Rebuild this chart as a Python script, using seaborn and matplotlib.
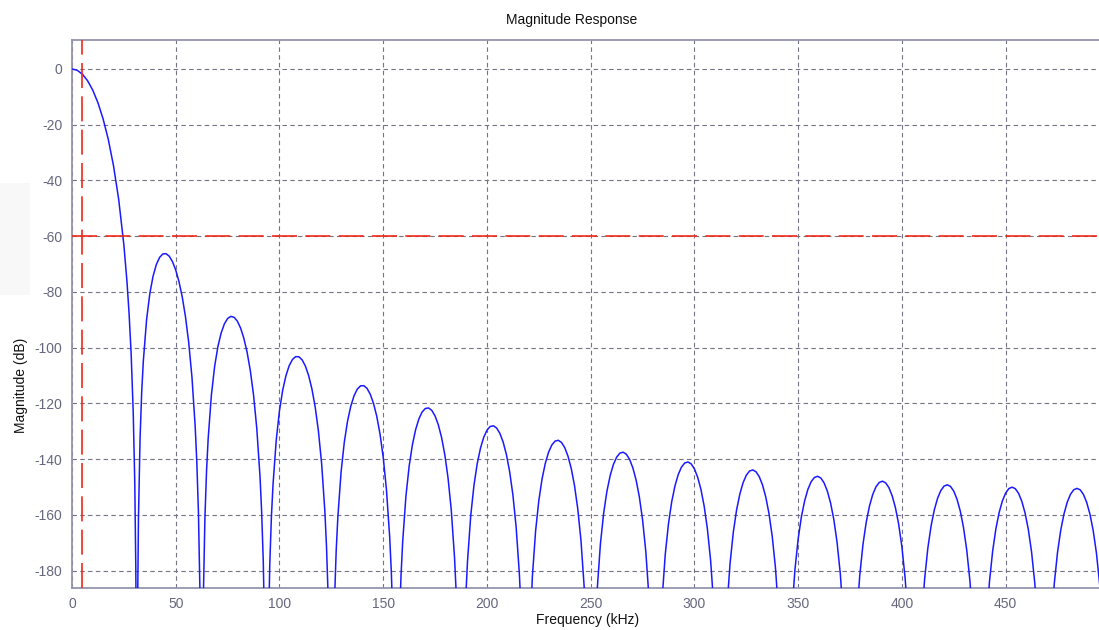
import matplotlib
matplotlib.use("Agg")
import matplotlib.pyplot as plt
from matplotlib.patches import Rectangle
import seaborn as sns
import pandas as pd

# ---------------- data ----------------
# Main lobe
main_freq_khz = [0.0, 2.5, 5.0, 7.5, 10.0, 12.5, 15.0, 17.5, 20.0, 22.5, 25.0,
                 26.5, 27.5, 28.5, 29.5, 30.25, 30.75, 31.0]
main_mag_db = [0.00, -0.46, -1.85, -4.20, -7.58, -12.10, -17.93, -25.31, -34.68,
               -46.77, -63.10, -76.32, -87.56, -102.10, -122.90, -148.15, -178.90, -209.40]

# Side lobes (values below the axis floor run off the plot near each null)
side_freq_khz = [
    31.64, 32.03, 32.81, 33.59, 34.38, 35.94, 37.50, 39.06, 40.63, 42.19, 43.75, 45.31,
    46.88, 48.44, 50.00, 51.56, 53.13, 54.69, 56.25, 57.81, 59.38, 60.16, 60.94, 61.72,
    63.28, 64.06, 64.84, 65.63, 67.19, 68.75, 70.31, 71.88, 73.44, 75.00, 76.56, 78.13,
    79.69, 81.25, 82.81, 84.38, 85.94, 87.50, 89.06, 90.63, 91.41, 92.19, 92.97,
    94.53, 95.31, 96.09, 96.88, 98.44, 100.00, 101.56, 103.13, 104.69, 106.25, 107.81,
    109.38, 110.94, 112.50, 114.06, 115.63, 117.19, 118.75, 120.31, 121.88, 122.66, 123.44,
    126.56, 127.34, 128.13, 129.69, 131.25, 132.81, 134.38, 135.94, 137.50, 139.06, 140.63,
    142.19, 143.75, 145.31, 146.88, 148.44, 150.00, 151.56, 153.13, 153.91, 154.69,
    157.81, 158.59, 159.38, 160.94, 162.50, 164.06, 165.63, 167.19, 168.75, 170.31, 171.88,
    173.44, 175.00, 176.56, 178.13, 179.69, 181.25, 182.81, 184.38, 185.16, 185.94,
    189.06, 189.84, 190.63, 192.19, 193.75, 195.31, 196.88, 198.44, 200.00, 201.56, 203.13,
    204.69, 206.25, 207.81, 209.38, 210.94, 212.50, 214.06, 215.63, 216.41,
    220.31, 221.88, 223.44, 225.00, 226.56, 228.13, 229.69, 231.25, 232.81, 234.38,
    235.94, 237.50, 239.06, 240.63, 242.19, 243.75, 245.31, 246.88, 248.44,
    251.56, 253.13, 254.69, 256.25, 257.81, 259.38, 260.94, 262.50, 264.06, 265.63,
    267.19, 268.75, 270.31, 271.88, 273.44, 275.00, 276.56, 278.13,
    284.38, 285.94, 287.50, 289.06, 290.63, 292.19, 293.75, 295.31, 296.88, 298.44,
    300.00, 301.56, 303.13, 304.69, 306.25, 307.81, 309.38,
    315.63, 317.19, 318.75, 320.31, 321.88, 323.44, 325.00, 326.56, 328.13, 329.69,
    331.25, 332.81, 334.38, 335.94, 337.50, 339.06, 340.63,
    346.88, 348.44, 350.00, 351.56, 353.13, 354.69, 356.25, 357.81, 359.38, 360.94,
    362.50, 364.06, 365.63, 367.19, 368.75, 370.31, 371.88,
    378.13, 379.69, 381.25, 382.81, 384.38, 385.94, 387.50, 389.06, 390.63, 392.19,
    393.75, 395.31, 396.88, 398.44, 400.00, 401.56, 403.13,
    409.38, 410.94, 412.50, 414.06, 415.63, 417.19, 418.75, 420.31, 421.88, 423.44,
    425.00, 426.56, 428.13, 429.69, 431.25, 432.81, 434.38,
    440.63, 442.19, 443.75, 445.31, 446.88, 448.44, 450.00, 451.56, 453.13, 454.69,
    456.25, 457.81, 459.38, 460.94, 462.50, 464.06, 465.63,
    471.88, 473.44, 475.00, 476.56, 478.13, 479.69, 481.25, 482.81, 484.38, 485.94,
    487.50, 489.06, 490.63, 492.19, 493.75, 495.31, 496.88,
]
side_mag_db = [
    -190.78, -161.25, -132.32, -115.96, -104.77, -89.98, -80.61, -74.35, -70.19, -67.63, -66.37, -66.25,
    -67.17, -69.12, -72.13, -76.28, -81.76, -88.86, -98.10, -110.48, -128.34, -141.08, -159.01, -189.54,
    -190.61, -161.16, -144.30, -132.63, -116.93, -106.70, -99.63, -94.72, -91.45, -89.51, -88.75, -89.07,
    -90.46, -92.92, -96.56, -101.54, -108.17, -116.96, -128.92, -146.37, -158.91, -176.65, -206.99,
    -207.69, -178.05, -161.01, -149.17, -133.13, -122.58, -115.20, -109.99, -106.43, -104.22, -103.19,
    -103.25, -104.38, -106.60, -110.00, -114.76, -121.17, -129.75, -141.50, -158.75, -171.19, -188.84,
    -189.87, -172.74, -160.81, -144.59, -133.87, -126.32, -120.95, -117.23, -114.86, -113.68, -113.60,
    -114.58, -116.67, -119.94, -124.56, -130.84, -139.29, -150.92, -168.04, -180.43, -198.01,
    -198.81, -181.62, -169.64, -153.31, -142.48, -134.83, -129.35, -125.53, -123.06, -121.79, -121.60,
    -122.50, -124.49, -127.66, -132.20, -138.39, -146.75, -158.30, -175.34, -187.68, -205.23,
    -205.86, -188.64, -176.61, -160.21, -149.31, -141.58, -136.03, -132.14, -129.60, -128.25, -128.00,
    -128.83, -130.75, -133.86, -138.33, -144.46, -152.76, -164.24, -181.22, -193.53,
    -211.57, -182.26, -165.80, -154.84, -147.05, -141.45, -137.50, -134.91, -133.51, -133.20,
    -133.98, -135.85, -138.91, -143.33, -149.41, -157.66, -169.09, -186.03, -215.81,
    -216.23, -186.88, -170.37, -159.37, -151.54, -145.89, -141.90, -139.26, -137.82, -137.47,
    -138.21, -140.04, -143.06, -147.43, -153.47, -161.69, -173.08, -189.97,
    -190.67, -174.13, -163.09, -155.22, -149.53, -145.51, -142.84, -141.36, -140.98, -141.67,
    -143.47, -146.46, -150.80, -156.80, -164.99, -176.35, -193.21,
    -193.77, -177.20, -166.12, -158.23, -152.51, -148.45, -145.75, -144.24, -143.83, -144.50,
    -146.26, -149.22, -153.53, -159.50, -167.66, -178.99, -195.82,
    -196.27, -179.67, -168.57, -160.64, -154.90, -150.81, -148.08, -146.55, -146.11, -146.75,
    -148.49, -151.42, -155.70, -161.65, -169.78, -181.08, -197.89,
    -198.24, -181.61, -170.48, -162.54, -156.76, -152.65, -149.90, -148.34, -147.87, -148.49,
    -150.21, -153.11, -157.37, -163.30, -171.40, -182.68, -199.46,
    -199.72, -183.07, -171.92, -163.94, -158.15, -154.02, -151.24, -149.65, -149.17, -149.76,
    -151.45, -154.34, -158.58, -164.48, -172.56, -183.82, -200.58,
    -200.75, -184.07, -172.90, -164.90, -159.09, -154.93, -152.13, -150.52, -150.02, -150.59,
    -152.26, -155.12, -159.34, -165.22, -173.28, -184.51, -201.25,
    -201.34, -184.64, -173.44, -165.43, -159.59, -155.41, -152.59, -150.96, -150.46, -150.98,
    -152.63, -155.47, -159.67, -165.53, -173.57, -184.79, -201.50,
]

passband_edge_khz = 5.0
stopband_atten_db = -60.0

x_ticks = [0, 50, 100, 150, 200, 250, 300, 350, 400, 450]
y_ticks = [-180, -160, -140, -120, -100, -80, -60, -40, -20, 0]
x_limits = (0, 495)
y_limits = (-186.3, 10.4)

title_text = "Magnitude Response"
x_label = "Frequency (kHz)"
y_label = "Magnitude (dB)"

# ---------------- styling ----------------
sns.set_style("white")
plt.rcParams["font.family"] = ["Liberation Sans", "DejaVu Sans"]

frame_col = "#9494ac"
grid_col = "#737385"
tick_lbl_col = "#66667e"
line_col = "#1a1aff"
red_col = "#ee2a1a"

df = pd.DataFrame({
    "freq": main_freq_khz + side_freq_khz,
    "mag": main_mag_db + side_mag_db,
})

fig = plt.figure(figsize=(10.99, 6.30), dpi=100)
fig.patch.set_facecolor("white")
fig.patches.append(Rectangle((0, 1 - 295 / 630), 30 / 1099, 112 / 630,
                             transform=fig.transFigure, facecolor="#f8f8f8",
                             edgecolor="none", zorder=0))

ax = fig.add_axes([72 / 1099, 1 - 588.3 / 630, 1 - 72 / 1099, (588.3 - 40) / 630])
ax.set_facecolor("white")

sns.lineplot(data=df, x="freq", y="mag", ax=ax, sort=False, estimator=None,
             color=line_col, linewidth=1.1, zorder=3)

ax.axvline(passband_edge_khz, color=red_col, linewidth=1.2,
           linestyle=(0, (15, 5)), zorder=4)
ax.axhline(stopband_atten_db, color=red_col, linewidth=1.2,
           linestyle=(0, (15, 5)), zorder=4)

ax.set_xlim(*x_limits)
ax.set_ylim(*y_limits)
ax.set_xticks(x_ticks)
ax.set_yticks(y_ticks)
ax.set_xticklabels([str(t) for t in x_ticks])
ax.set_yticklabels([str(t) for t in y_ticks])

ax.grid(True, color=grid_col, linestyle=(0, (4, 3)), linewidth=0.8, zorder=1)
for s in ["left", "top", "bottom"]:
    ax.spines[s].set_color(frame_col)
    ax.spines[s].set_linewidth(1.3)
ax.spines["right"].set_visible(False)

ax.tick_params(axis="both", direction="in", length=4, color=frame_col,
               labelcolor=tick_lbl_col, labelsize=10)
ax.tick_params(axis="y", pad=7)
ax.tick_params(axis="x", pad=6)

ax.set_xlabel("")
ax.set_ylabel("")
fig.text(572 / 1099, 1 - 20 / 630, title_text, ha="center", va="center",
         fontsize=10, color="#111111")
fig.text(588 / 1099, 1 - 620 / 630, x_label, ha="center", va="center",
         fontsize=10, color="#111111")
fig.text(21 / 1099, 1 - 385 / 630, y_label, ha="center", va="center",
         rotation=90, fontsize=10, color="#111111")

fig.savefig("out.png", dpi=100, facecolor="white")
